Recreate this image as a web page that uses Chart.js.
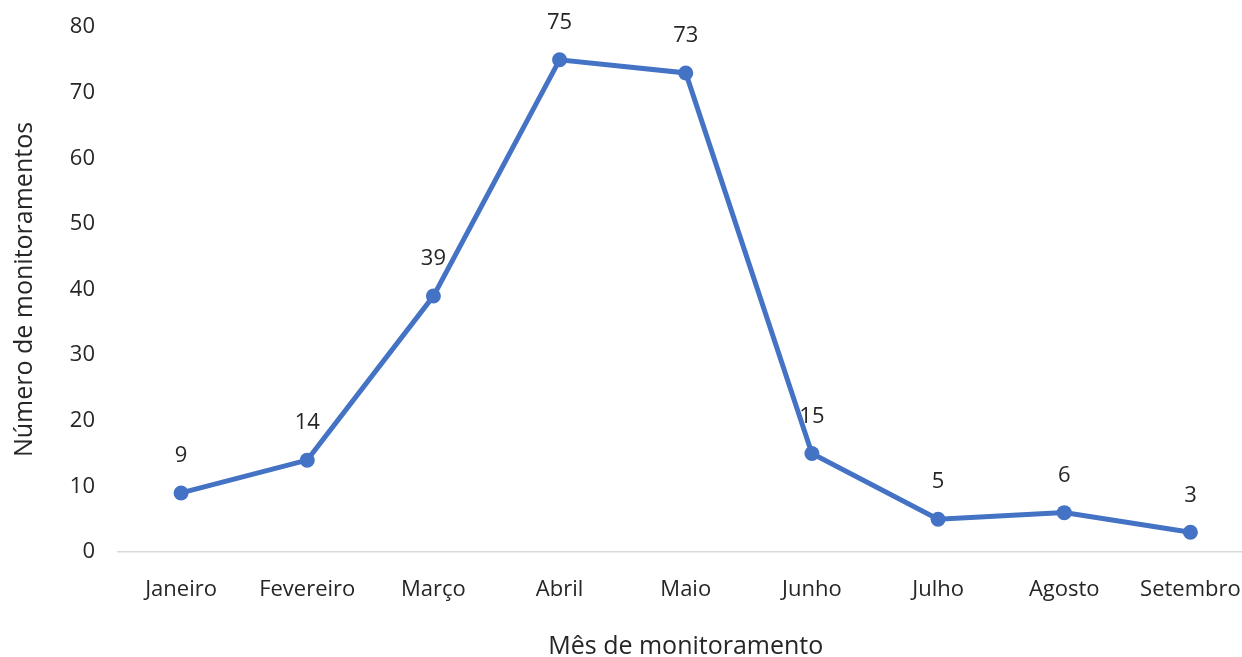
<!DOCTYPE html>
<html>
<head>
<meta charset="utf-8">
<script src="https://cdn.jsdelivr.net/npm/chart.js@4"></script>
<style>
  html, body { margin: 0; padding: 0; background: #fff; overflow: hidden; }
  #wrap { width: 1242px; height: 657px; overflow: hidden; }
</style>
</head>
<body>
<div id="wrap"><canvas id="chart" width="1261" height="657"></canvas></div>
<script>
'use strict';

var months = ['Janeiro', 'Fevereiro', 'Março', 'Abril', 'Maio', 'Junho', 'Julho', 'Agosto', 'Setembro'];
var counts = [9, 14, 39, 75, 73, 15, 5, 6, 3];
var yTicks = [0, 10, 20, 30, 40, 50, 60, 70, 80];

var fontFamily = '"Open Sans", "Noto Sans", sans-serif';
var textColor = '#262626';

// values above each point
var pointLabels = {
    id: 'pointLabels',
    afterDatasetsDraw: function(chart) {
        var ctx = chart.ctx;
        var meta = chart.getDatasetMeta(0);
        ctx.save();
        ctx.font = '22px ' + fontFamily;
        ctx.fillStyle = textColor;
        ctx.textAlign = 'center';
        ctx.textBaseline = 'middle';
        meta.data.forEach(function(pt, i) {
            ctx.fillText(String(counts[i]), pt.x, pt.y - 37);
        });
        ctx.restore();
    }
};

var ctx = document.getElementById('chart').getContext('2d');
var chart = new Chart(ctx, {
    type: 'line',
    data: {
        labels: months,
        datasets: [{
            label: 'Monitoramentos',
            data: counts,
            borderColor: '#4472C4',
            backgroundColor: '#4472C4',
            borderWidth: 5,
            pointRadius: 7.5,
            pointBorderWidth: 0,
            tension: 0
        }]
    },
    options: {
        responsive: false,
        animation: false,
        layout: { padding: { top: 27, right: 0, bottom: 0, left: 0 } },
        plugins: {
            legend: { display: false },
            tooltip: { enabled: false }
        },
        scales: {
            x: {
                offset: true,
                grid: { display: false, drawTicks: false },
                border: { color: '#d9d9d9', width: 1.5 },
                ticks: {
                    color: textColor,
                    font: { family: fontFamily, size: 22 },
                    padding: 25,
                    maxRotation: 0,
                    autoSkip: false
                },
                title: {
                    display: true,
                    text: 'Mês de monitoramento',
                    color: textColor,
                    font: { family: fontFamily, size: 25 },
                    padding: { top: 20, bottom: -5 }
                },
                afterFit: function(scale) {
                    scale.height = 105;
                    scale.paddingLeft = 0;
                    scale.paddingRight = 0;
                }
            },
            y: {
                min: 0,
                max: 80,
                afterBuildTicks: function(scale) {
                    scale.ticks = yTicks.map(function(v) { return { value: v }; });
                },
                grid: { display: false, drawTicks: false },
                border: { display: false },
                ticks: {
                    color: textColor,
                    font: { family: fontFamily, size: 22 },
                    padding: 23
                },
                title: {
                    display: true,
                    text: 'Número de monitoramentos',
                    color: textColor,
                    font: { family: fontFamily, size: 25 },
                    padding: { top: 10, bottom: 10 }
                },
                afterFit: function(scale) {
                    scale.width = 118;
                    scale.paddingTop = 0;
                    scale.paddingBottom = 0;
                }
            }
        }
    },
    plugins: [pointLabels]
});
</script>
</body>
</html>
